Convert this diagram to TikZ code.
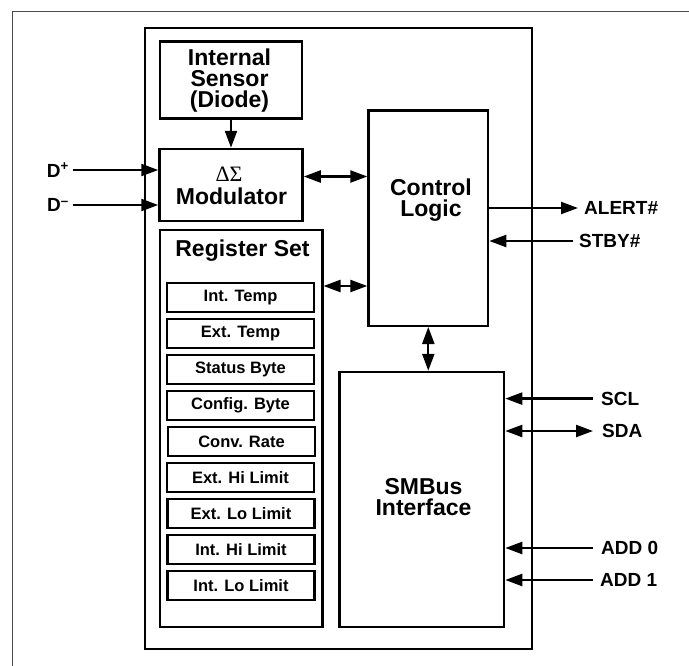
\documentclass[tikz,border=0pt]{standalone}
\usepackage{fontspec}
\setmainfont{Liberation Sans}
\newfontfamily\greekserif{Liberation Serif}
\usetikzlibrary{arrows.meta,calc}
\begin{document}
\begin{tikzpicture}[x=1pt,y=-1pt,
  blk/.style={draw, line width=2.5pt, inner sep=0pt, align=center, font=\fontsize{23}{21}\selectfont\bfseries},
  bigtext/.style={inner sep=0pt, align=center, font=\fontsize{23}{21}\selectfont\bfseries},
  regbox/.style={draw, line width=2.5pt, inner sep=0pt, minimum width=147pt, minimum height=29pt, font=\fontsize{16.5}{18}\selectfont\bfseries},
  pin/.style={inner sep=0pt, font=\fontsize{19}{20}\selectfont\bfseries},
  wire/.style={line width=2.3pt},
  tipend/.style={wire, -{Triangle[length=17pt,width=12pt]}},
  tipboth/.style={wire, {Triangle[length=17pt,width=12pt]}-{Triangle[length=17pt,width=12pt]}},
]
\useasboundingbox (0,0) rectangle (689,665);
\fill[white] (0,0) rectangle (689,665);
\clip (0,0) rectangle (689,665);
\draw[gray!60!black, line width=1pt] (12,11) rectangle (720,700);

% chip outline
\node[draw, line width=2.5pt, minimum width=387pt, minimum height=621pt, inner sep=0pt] (chip) at (338.5,338.5) {};

% internal sensor
\node[blk, minimum width=142pt, minimum height=77pt] (sensor) at (231,80) {};
\node[bigtext] (sensortext) at (229.5,81) {Internal\\Sensor\\(Diode)};

% modulator
\node[blk, minimum width=143pt, minimum height=72pt] (mod) at (231,185) {};
\node[inner sep=0pt, font=\fontsize{22}{22}\selectfont\greekserif] (ds) at (229,174) {ΔΣ};
\node[bigtext] (modtext) at (231.5,196) {Modulator};

% register set
\node[draw, line width=2.5pt, minimum width=162.5pt, minimum height=397pt, inner sep=0pt] (regset) at (241,428.5) {};
\node[bigtext] (regtitle) at (242.5,251) {Register Set};
\node[regbox] (r1) at (240.5,297.5) {Int. Temp};
\node[regbox] (r2) at (240.5,333.5) {Ext. Temp};
\node[regbox] (r3) at (240.5,369.5) {Status Byte};
\node[regbox] (r4) at (240.5,405.5) {Config. Byte};
\node[regbox] (r5) at (241.5,441.5) {Conv. Rate};
\node[regbox] (r6) at (240.5,477.5) {Ext. Hi Limit};
\node[regbox] (r7) at (241,513.5) {Ext. Lo Limit};
\node[regbox] (r8) at (241,549.5) {Int. Hi Limit};
\node[regbox] (r9) at (241,585.5) {Int. Lo Limit};

% control logic
\node[draw, line width=2.5pt, minimum width=119.5pt, minimum height=215.5pt, inner sep=0pt] (ctrl) at (428.3,218) {};
\node[bigtext] (ctrltext) at (431,200) {Control\\Logic};

% SMBus interface
\node[blk, minimum width=164.5pt, minimum height=255pt] (smb) at (421.8,499.5) {};
\node[bigtext] (smbtext) at (423.5,497) {SMBus\\Interface};

% pin labels
\node[pin, anchor=east] (dp) at (69,170) {D\textsuperscript{+}};
\node[pin, anchor=east] (dm) at (69,205) {D\textsuperscript{–}};
\node[pin, anchor=west] (alert) at (584,208) {ALERT\#};
\node[pin, anchor=west] (stby) at (579,241) {STBY\#};
\node[pin, anchor=west] (scl) at (601,398.6) {SCL};
\node[pin, anchor=west] (sda) at (602,431) {SDA};
\node[pin, anchor=west] (add0) at (601,548) {ADD 0};
\node[pin, anchor=west] (add1) at (600,580) {ADD 1};

% helper rows
\coordinate (row1) at (0,176.5);
\coordinate (row2) at (0,286);

% internal connectors
\draw[tipend] (sensor.south) -- (sensor.south |- mod.north);
\draw[tipboth] (mod.east |- row1) -- (ctrl.west |- row1);
\draw[tipboth] (regset.east |- row2) -- (ctrl.west |- row2);
\draw[tipboth] (ctrl.south) -- (ctrl.south |- smb.north);

% pin connectors
\draw[tipend] ([xshift=3.5pt]dp.east) -- (dp -| mod.west);
\draw[tipend] ([xshift=3.5pt]dm.east) -- (dm -| mod.west);
\draw[tipend] (alert -| ctrl.east) -- ([xshift=-6pt]alert.west);
\draw[tipend] ([xshift=-6pt]stby.west) -- (stby -| ctrl.east);
\draw[tipend] ([xshift=-8pt]scl.west) -- (scl -| smb.east);
\draw[tipboth] (sda -| smb.east) -- ([xshift=-9pt]sda.west);
\draw[tipend] ([xshift=-8pt]add0.west) -- (add0 -| smb.east);
\draw[tipend] ([xshift=-7pt]add1.west) -- (add1 -| smb.east);
\end{tikzpicture}
\end{document}
